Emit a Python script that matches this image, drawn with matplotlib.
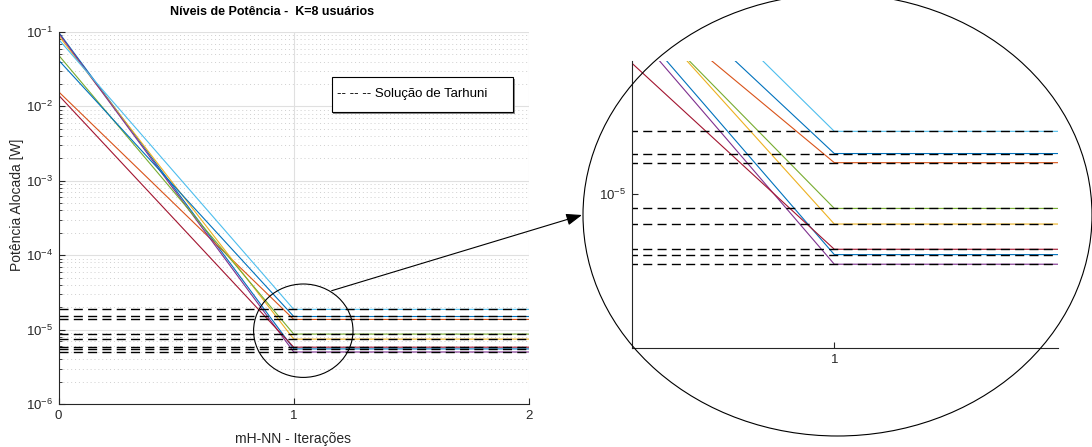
import numpy as np
import matplotlib
matplotlib.use('Agg')
import matplotlib.pyplot as plt
from matplotlib.patches import Ellipse, Rectangle, FancyArrowPatch

plt.rcParams['font.family'] = ['Liberation Sans', 'DejaVu Sans']
plt.rcParams['mathtext.default'] = 'regular'

# potencia alocada por usuario: inicio (iteracao 0) e convergencia (iteracao 1)
iteracoes = [0, 1, 2]
p_inicial = [0.100, 0.0158, 0.090, 0.097, 0.049, 0.080, 0.0142, 0.042]
p_final = [5.5e-6, 1.37e-5, 7.45e-6, 5.0e-6, 8.7e-6, 1.87e-5, 5.8e-6, 1.5e-5]
# solucao de referencia (Tarhuni)
p_tarhuni = [5.5e-6, 1.37e-5, 7.45e-6, 5.0e-6, 8.7e-6, 1.87e-5, 5.8e-6, 1.5e-5]

cores = ['#0072BD', '#D95319', '#EDB120', '#7E2F8E', '#77AC30', '#4DBEEE', '#A2142F', '#0072BD']
cinza = '#262626'

W, H = 1092, 447
fig = plt.figure(figsize=(W / 100, H / 100), dpi=100)


def fx(px):
    return px / W


def fy(py):
    return 1 - py / H


def desenha(ax):
    for k in range(8):
        ax.plot(iteracoes, [p_inicial[k], p_final[k], p_final[k]], color=cores[k], lw=0.8)
    for k in range(8):
        ax.plot([0, 2], [p_tarhuni[k], p_tarhuni[k]], color='k', lw=1.0, ls=(0, (6.5, 3.8)))
    ax.set_yscale('log')
    ax.spines['top'].set_visible(False)
    ax.spines['right'].set_visible(False)
    for s in ['left', 'bottom']:
        ax.spines[s].set_color(cinza)
        ax.spines[s].set_linewidth(0.8)
    ax.tick_params(which='both', direction='in', colors=cinza, labelsize=9.5)


# grafico principal
ax = fig.add_axes([fx(58.5), fy(404), fx(529) - fx(58.5), fy(32) - fy(404)])
desenha(ax)
ax.set_xlim(0, 2)
ax.set_ylim(1e-6, 1e-1)
ax.set_xticks([0, 1, 2])
ax.set_xticklabels(['0', '1', '2'])
ax.set_yticks([1e-6, 1e-5, 1e-4, 1e-3, 1e-2, 1e-1])
ax.set_yticklabels(['$10^{-%d}$' % n for n in [6, 5, 4, 3, 2, 1]])
ax.tick_params(which='major', length=4, pad=4)
ax.tick_params(which='minor', length=2)
ax.grid(True, which='major', color='#e0e0e0', lw=0.8)
ax.yaxis.grid(True, which='minor', color='#cfcfcf', lw=0.7, ls=(0, (1, 3)))
ax.set_axisbelow(True)

fig.text(fx(272.5), fy(12), 'Níveis de Potência -  K=8 usuários', ha='center', va='center',
         fontsize=9, fontweight='bold', color='k')
fig.text(fx(17), fy(205), 'Potência Alocada [W]', ha='center', va='center', rotation=90,
         fontsize=10, color=cinza)
fig.text(fx(293), fy(439), 'mH-NN - Iterações', ha='center', va='center', fontsize=10, color=cinza)

# caixa de legenda
fig.add_artist(Rectangle((fx(333), fy(113.5)), fx(513.3) - fx(331.7), fy(76.7) - fy(111.7),
                         transform=fig.transFigure, fc='#8c8c8c', ec='none', zorder=4))
fig.add_artist(Rectangle((fx(331.7), fy(111.7)), fx(513.3) - fx(331.7), fy(76.7) - fy(111.7),
                         transform=fig.transFigure, fc='white', ec='k', lw=0.8, zorder=5))
fig.text(fx(337), fy(94), '-- -- -- Solução de Tarhuni', ha='left', va='center',
         fontsize=9.5, color='k', zorder=6)

# detalhe ampliado
axz = fig.add_axes([fx(632), fy(348.3), fx(1058) - fx(632), fy(60.7) - fy(348.3)])
desenha(axz)
axz.set_xlim(0.7634, 1.2616)
axz.set_ylim(2.17e-6, 3.77e-5)
axz.set_xticks([1])
axz.set_xticklabels(['1'])
axz.set_yticks([1e-5])
axz.set_yticklabels(['$10^{-5}$'])
axz.yaxis.set_minor_locator(matplotlib.ticker.NullLocator())
axz.tick_params(which='major', length=4, pad=4)
axz.patch.set_alpha(0)

# circulo, elipse e seta
fig.add_artist(Ellipse((fx(303.3), fy(330.7)), 2 * 49.7 / W, 2 * 46.7 / H,
                       transform=fig.transFigure, fill=False, ec='k', lw=0.8))
fig.add_artist(Ellipse((fx(837.5), fy(215)), 2 * 254.5 / W, 2 * 221 / H,
                       transform=fig.transFigure, fill=False, ec='k', lw=0.8))
fig.add_artist(FancyArrowPatch((fx(331.7), fy(290.7)), (fx(582), fy(215)),
                               transform=fig.transFigure, arrowstyle='-|>,head_length=0.8,head_width=0.3',
                               mutation_scale=12, color='k', lw=0.8, shrinkA=0, shrinkB=0))

fig.savefig('out.png', dpi=100)
